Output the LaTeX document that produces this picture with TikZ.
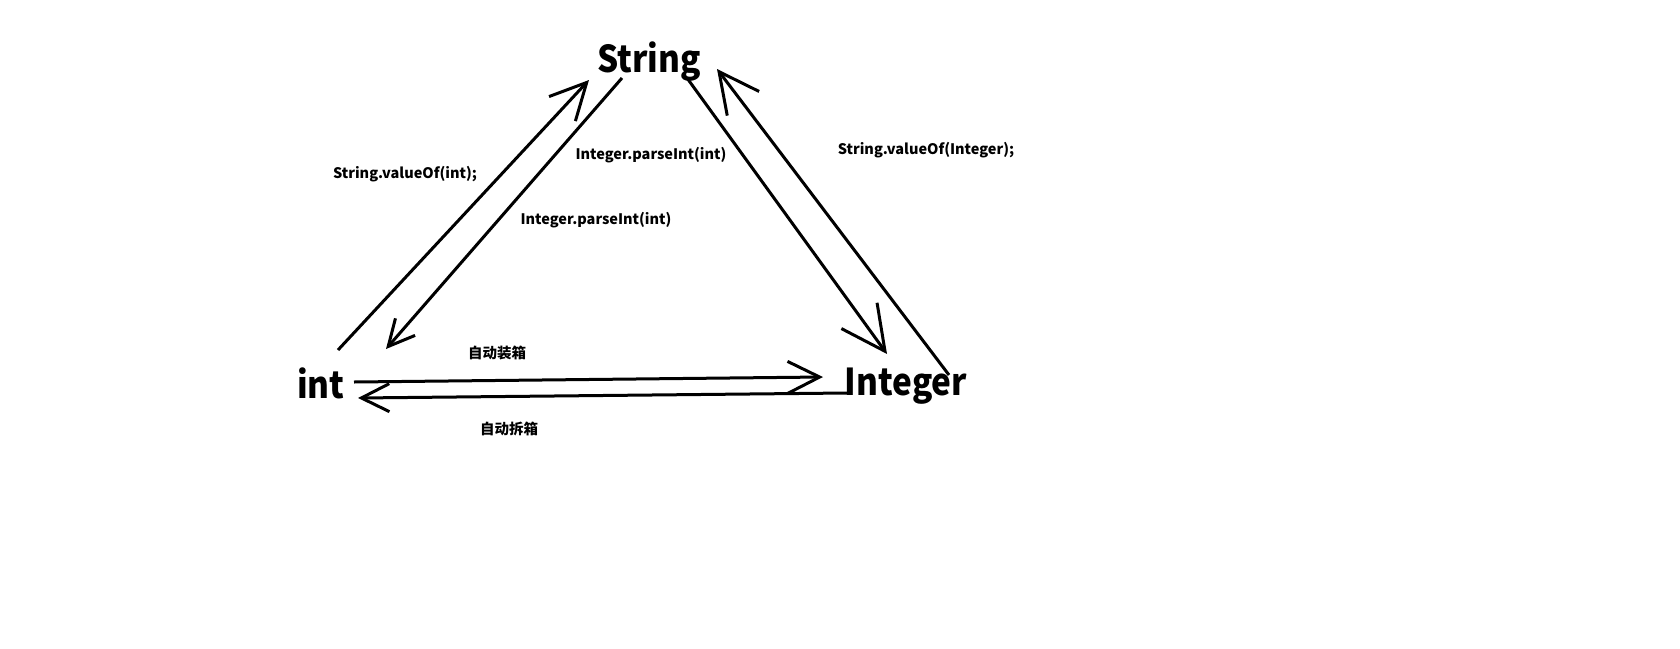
\documentclass[tikz,border=0pt]{standalone}
\usepackage{fontspec}
\setmainfont{Noto Sans CJK SC}
\newfontfamily\narrowfont{Noto Sans CJK SC}[FakeStretch=0.9]
\usetikzlibrary{arrows.meta}
\tikzset{
  big/.style={font=\narrowfont\bfseries\fontsize{37}{40}\selectfont, inner sep=0pt, anchor=base},
  small/.style={font=\bfseries\fontsize{14.5}{16}\selectfont, inner sep=0pt, anchor=base},
  conv/.style={line width=3pt, -{Straight Barb[length=#1,width=#1]}},
  conv/.default=36pt
}
\begin{document}
\begin{tikzpicture}[x=1pt, y=-1pt]
    \useasboundingbox (0,0) rectangle (1680,648);
    \node[big] (str) at (649,72) {String};
    \node[big] (int) at (321,398) {int};
    \node[big] (integer) at (906,395) {Integer};
    \node[small] (valint) at (405,178) {String.valueOf(int);};
    \node[small] (parse1) at (651,159) {Integer.parseInt(int)};
    \node[small] (parse2) at (596,224) {Integer.parseInt(int)};
    \node[small] (valinteger) at (926,154) {String.valueOf(Integer);};
    \node[small] (box) at (497,358) {自动装箱};
    \node[small] (unbox) at (509,434) {自动拆箱};
    % free ends of the arrows
    \coordinate (a1) at (338,350);
    \coordinate (b1) at (589,80);
    \coordinate (a2) at (622,78);
    \coordinate (b2) at (386,349);
    \coordinate (a3) at (687,78);
    \coordinate (b3) at (887,354);
    \coordinate (a4) at (949,375);
    \coordinate (b4) at (717,69);
    \coordinate (a5) at (354,382);
    \coordinate (b5) at (823,377);
    \coordinate (a6) at (847,393);
    \coordinate (b6) at (358,398);
    \draw [conv] (a1) -- (b1);
    \draw [conv=26pt] (a2) -- (b2);
    \draw [conv=44pt] (a3) -- (b3);
    \draw [conv=40pt] (a4) -- (b4);
    \draw [conv=32pt] (a5) -- (b5);
    \draw [conv=28pt] (a6) -- (b6);
  \end{tikzpicture}
\end{document}
